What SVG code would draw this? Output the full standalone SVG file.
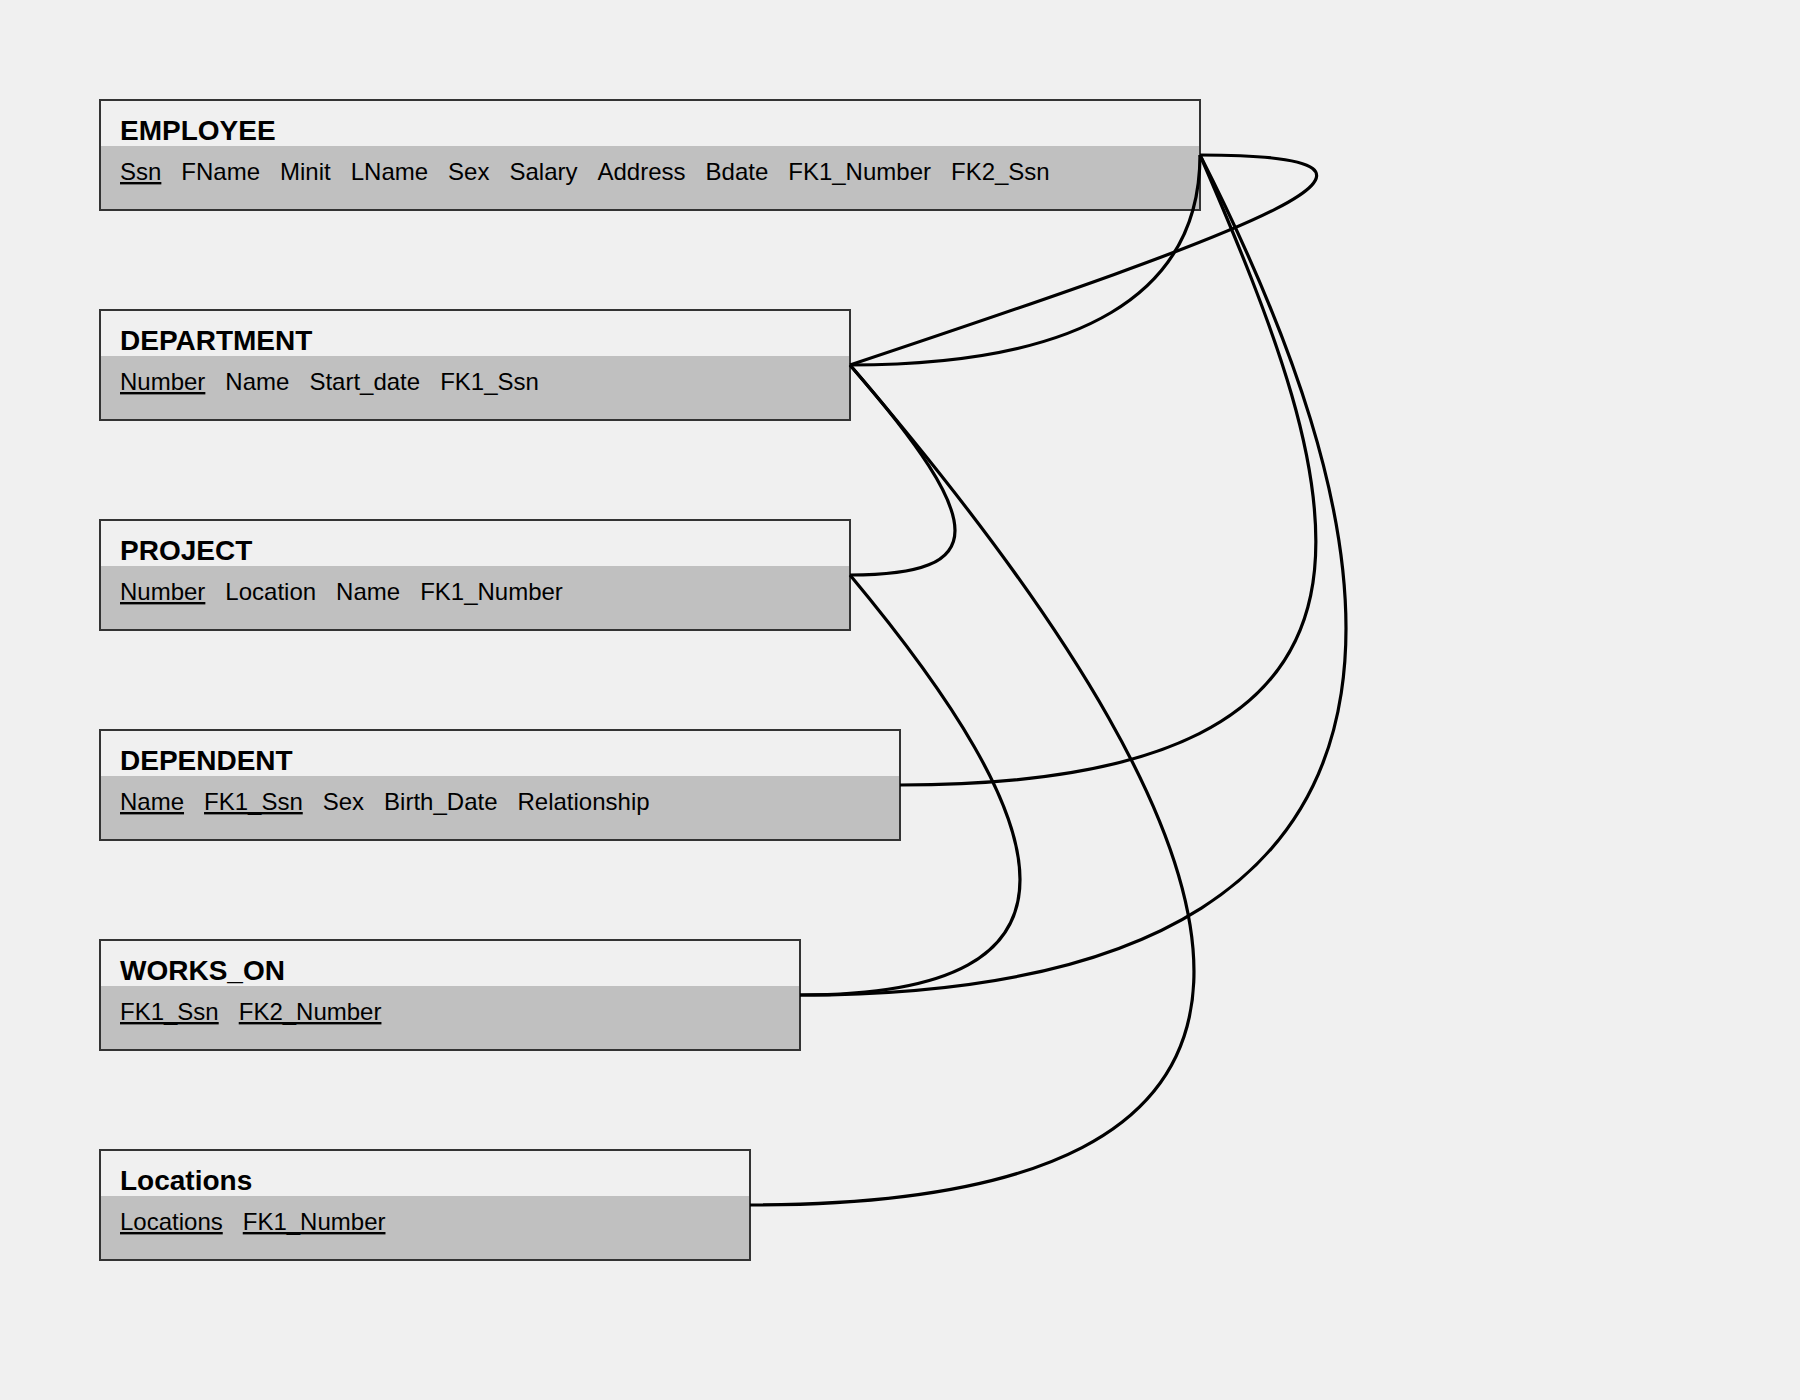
<svg xmlns="http://www.w3.org/2000/svg" width="1800" height="1400" viewBox="0 0 1800 1400">
<style>
.bg{fill:#f0f0f0}
.hdr{fill:#f0f0f0}
.band{fill:#c0c0c0}
.frame{fill:none;stroke:#333;stroke-width:2}
.title{font-family:"Liberation Sans",Arial,sans-serif;font-size:28px;font-weight:bold;fill:#000}
.attr{font-family:"Liberation Sans",Arial,sans-serif;font-size:24px;fill:#000}
.pk{text-decoration:underline}
.conn path{fill:none;stroke:#000;stroke-width:3.2}
</style>
<rect class="bg" x="0" y="0" width="1800" height="1400"/>
<g id="EMPLOYEE">
<rect class="hdr" x="100" y="100" width="1100" height="110"/>
<rect class="band" x="100" y="146" width="1100" height="64"/>
<rect class="frame" x="100" y="100" width="1100" height="110"/>
<text class="title" x="120" y="140">EMPLOYEE</text>
<text class="attr" x="120" y="180"><tspan class="pk">Ssn</tspan><tspan dx="20">FName</tspan><tspan dx="20">Minit</tspan><tspan dx="20">LName</tspan><tspan dx="20">Sex</tspan><tspan dx="20">Salary</tspan><tspan dx="20">Address</tspan><tspan dx="20">Bdate</tspan><tspan dx="20">FK1_Number</tspan><tspan dx="20">FK2_Ssn</tspan></text>
</g>
<g id="DEPARTMENT">
<rect class="hdr" x="100" y="310" width="750" height="110"/>
<rect class="band" x="100" y="356" width="750" height="64"/>
<rect class="frame" x="100" y="310" width="750" height="110"/>
<text class="title" x="120" y="350">DEPARTMENT</text>
<text class="attr" x="120" y="390"><tspan class="pk">Number</tspan><tspan dx="20">Name</tspan><tspan dx="20">Start_date</tspan><tspan dx="20">FK1_Ssn</tspan></text>
</g>
<g id="PROJECT">
<rect class="hdr" x="100" y="520" width="750" height="110"/>
<rect class="band" x="100" y="566" width="750" height="64"/>
<rect class="frame" x="100" y="520" width="750" height="110"/>
<text class="title" x="120" y="560">PROJECT</text>
<text class="attr" x="120" y="600"><tspan class="pk">Number</tspan><tspan dx="20">Location</tspan><tspan dx="20">Name</tspan><tspan dx="20">FK1_Number</tspan></text>
</g>
<g id="DEPENDENT">
<rect class="hdr" x="100" y="730" width="800" height="110"/>
<rect class="band" x="100" y="776" width="800" height="64"/>
<rect class="frame" x="100" y="730" width="800" height="110"/>
<text class="title" x="120" y="770">DEPENDENT</text>
<text class="attr" x="120" y="810"><tspan class="pk">Name</tspan><tspan dx="20" class="pk">FK1_Ssn</tspan><tspan dx="20">Sex</tspan><tspan dx="20">Birth_Date</tspan><tspan dx="20">Relationship</tspan></text>
</g>
<g id="WORKS_ON">
<rect class="hdr" x="100" y="940" width="700" height="110"/>
<rect class="band" x="100" y="986" width="700" height="64"/>
<rect class="frame" x="100" y="940" width="700" height="110"/>
<text class="title" x="120" y="980">WORKS_ON</text>
<text class="attr" x="120" y="1020"><tspan class="pk">FK1_Ssn</tspan><tspan dx="20" class="pk">FK2_Number</tspan></text>
</g>
<g id="Locations">
<rect class="hdr" x="100" y="1150" width="650" height="110"/>
<rect class="band" x="100" y="1196" width="650" height="64"/>
<rect class="frame" x="100" y="1150" width="650" height="110"/>
<text class="title" x="120" y="1190">Locations</text>
<text class="attr" x="120" y="1230"><tspan class="pk">Locations</tspan><tspan dx="20" class="pk">FK1_Number</tspan></text>
</g>
<g id="connectors" class="conn">
<path d="M1200,155 C1460,155 1260,228 850,365"/>
<path d="M1200,155 C1200,295 1080,365 850,365"/>
<path d="M850,365 C990,526 990,575 850,575"/>
<path d="M850,365 C1300,890 1350,1205 750,1205"/>
<path d="M850,575 C1060,827 1110,995 800,995"/>
<path d="M900,785 C1450,785 1345,490 1200,155"/>
<path d="M800,995 C1550,995 1360,470 1200,155"/>
</g>
</svg>
